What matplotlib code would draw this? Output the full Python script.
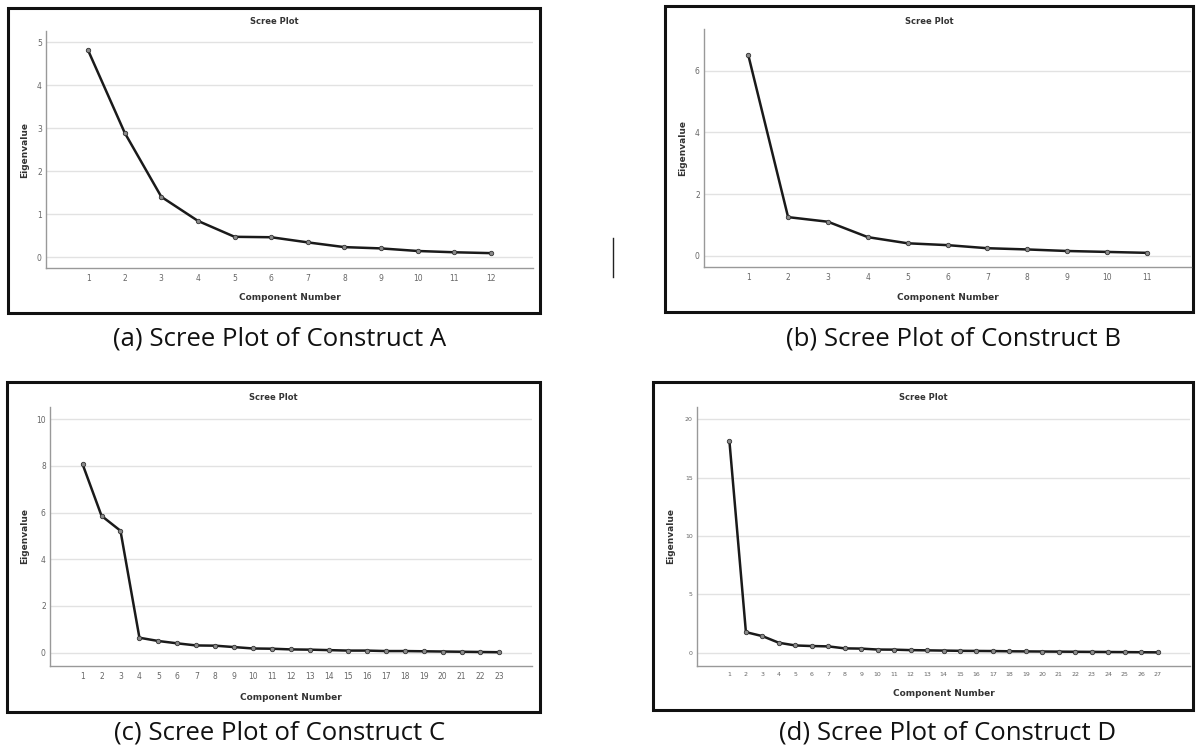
import matplotlib
matplotlib.use("Agg")
import matplotlib.pyplot as plt
from matplotlib.patches import Rectangle
from matplotlib.lines import Line2D

W, H = 1196, 753

eig_a = [4.81, 2.89, 1.40, 0.84, 0.47, 0.46, 0.34, 0.23, 0.20, 0.14, 0.11, 0.09]
eig_b = [6.52, 1.25, 1.10, 0.60, 0.40, 0.34, 0.24, 0.20, 0.15, 0.12, 0.09]
eig_c = [8.07, 5.86, 5.22, 0.64, 0.50, 0.40, 0.31, 0.30, 0.24, 0.18, 0.17, 0.14,
         0.13, 0.11, 0.09, 0.09, 0.07, 0.07, 0.06, 0.05, 0.04, 0.03, 0.02]
eig_d = [18.1, 1.76, 1.42, 0.85, 0.62, 0.57, 0.54, 0.37, 0.35, 0.27, 0.26, 0.22,
         0.20, 0.18, 0.16, 0.15, 0.14, 0.12, 0.11, 0.10, 0.09, 0.08, 0.07, 0.06,
         0.05, 0.04, 0.03]

captions = ["(a) Scree Plot of Construct A", "(b) Scree Plot of Construct B",
            "(c) Scree Plot of Construct C", "(d) Scree Plot of Construct D"]
yticks = [[0, 1, 2, 3, 4, 5], [0, 2, 4, 6], [0, 2, 4, 6, 8, 10], [0, 5, 10, 15, 20]]

# layout in pixels: box (x0, y0, x1, y1), axes (l, t, r, b), xlim, ylim
panels = [
    dict(data=eig_a, box=(8, 8, 540, 313), ax=(46, 31, 533, 268),
         xlim=(-0.15, 13.15), ylim=(-0.256, 5.26), ylab_x=25, title_y=22,
         xlab_y=298, cap=(280, 346), tick_fs=5.5),
    dict(data=eig_b, box=(665, 6, 1193, 312), ax=(704, 29, 1191, 267),
         xlim=(-0.11, 12.11), ylim=(-0.37, 7.36), ylab_x=683, title_y=21,
         xlab_y=297, cap=(953, 346), tick_fs=5.5),
    dict(data=eig_c, box=(7, 382, 540, 712), ax=(50, 407, 532, 666),
         xlim=(-0.72, 24.72), ylim=(-0.57, 10.52), ylab_x=25, title_y=397,
         xlab_y=698, cap=(280, 740), tick_fs=5.5),
    dict(data=eig_d, box=(653, 382, 1193, 710), ax=(697, 407, 1190, 666),
         xlim=(-0.97, 28.97), ylim=(-1.14, 21.04), ylab_x=671, title_y=397,
         xlab_y=694, cap=(948, 740), tick_fs=4.5),
]

fig = plt.figure(figsize=(W / 100, H / 100), dpi=100)

def fx(x):
    return x / W

def fy(y):
    return 1 - y / H

for i, p in enumerate(panels):
    x0, y0, x1, y1 = p["box"]
    fig.add_artist(Rectangle((fx(x0), fy(y1)), fx(x1) - fx(x0), fy(y0) - fy(y1),
                             transform=fig.transFigure, fill=False,
                             edgecolor="#111111", lw=2.2, zorder=0))
    l, t, r, b = p["ax"]
    ax = fig.add_axes([fx(l), fy(b), fx(r) - fx(l), fy(t) - fy(b)])
    vals = p["data"]
    comps = list(range(1, len(vals) + 1))
    for yt in yticks[i]:
        ax.axhline(yt, color="#e2e2e2", lw=1.0, zorder=0)
    ax.plot(comps, vals, color="#1a1a1a", lw=1.8, marker="o", markersize=3.2,
            markerfacecolor="#8a8a8a", markeredgecolor="#333333",
            markeredgewidth=0.6, zorder=3)
    ax.set_xlim(p["xlim"])
    ax.set_ylim(p["ylim"])
    ax.set_xticks(comps)
    ax.set_yticks(yticks[i])
    ax.tick_params(length=0, labelsize=p["tick_fs"], labelcolor="#666666")
    ax.tick_params(axis="x", pad=4)
    ax.tick_params(axis="y", pad=3)
    for s in ["top", "right"]:
        ax.spines[s].set_visible(False)
    for s in ["left", "bottom"]:
        ax.spines[s].set_color("#999999")
        ax.spines[s].set_linewidth(1.0)
    fig.text(fx((x0 + x1) / 2), fy(p["title_y"]), "Scree Plot", ha="center",
             va="center", fontsize=6, fontweight="bold", color="#333333")
    fig.text(fx((l + r) / 2), fy(p["xlab_y"]), "Component Number", ha="center",
             va="center", fontsize=6.5, fontweight="bold", color="#333333")
    fig.text(fx(p["ylab_x"]), fy((t + b) / 2), "Eigenvalue", ha="center",
             va="center", rotation=90, fontsize=6.5, fontweight="bold",
             color="#333333")
    fig.text(fx(p["cap"][0]), fy(p["cap"][1]), captions[i], ha="center",
             va="baseline", fontsize=18.5, family="Open Sans", color="#111111")

# stray divider mark between the top panels
fig.add_artist(Line2D([fx(613), fx(613)], [fy(238), fy(277)],
                      transform=fig.transFigure, color="#222222", lw=1.0))

fig.savefig("out.png", dpi=100)
